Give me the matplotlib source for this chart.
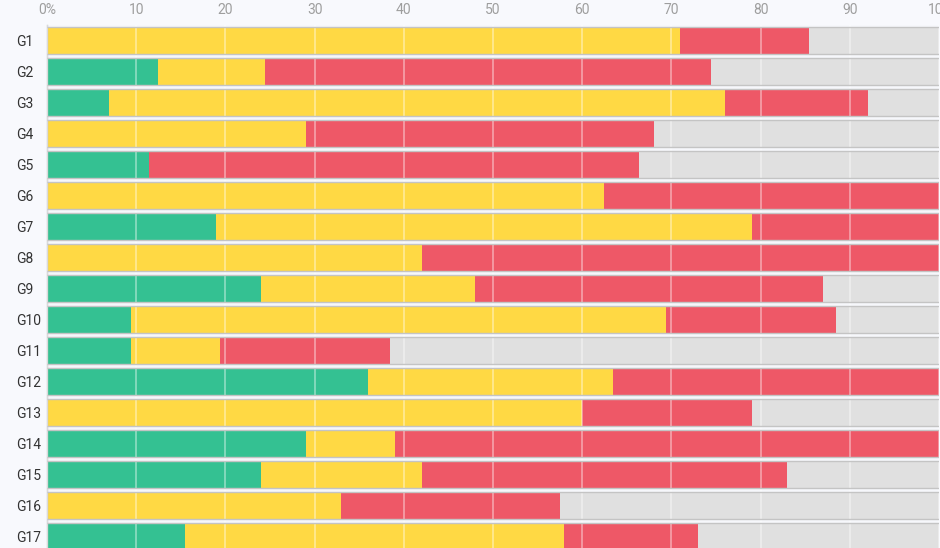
import numpy as np
import matplotlib.pyplot as plt

plt.rcParams['font.family'] = ['Roboto', 'DejaVu Sans']

# ----------------------------
# Data (percent of each group)
# ----------------------------
groups = ["G1", "G2", "G3", "G4", "G5", "G6", "G7", "G8", "G9",
          "G10", "G11", "G12", "G13", "G14", "G15", "G16", "G17"]
green = [0, 12.4, 7, 0, 11.4, 0, 19, 0, 24, 9.4, 9.4, 36, 0, 29, 24, 0, 15.5]
yellow = [71, 12, 69, 29, 0, 62.4, 60, 42, 24, 60, 10, 27.5, 60, 10, 18, 33, 42.5]
red = [14.4, 50, 16, 39, 55, 37.6, 21, 58, 39, 19, 19, 36.5, 19, 61, 41, 24.5, 15]
gray = [14.6, 25.6, 8, 32, 33.6, 0, 0, 0, 13, 11.6, 61.6, 0, 21, 0, 17, 42.5, 27]

xticks = [0, 10, 20, 30, 40, 50, 60, 70, 80, 90, 100]
xticklabels = ["0%", "10", "20", "30", "40", "50", "60", "70", "80", "90", "100"]

series = [green, yellow, red, gray]
colors = ["#34c192", "#ffd944", "#ee5867", "#e0e0e0"]

# ----------------------------
# Figure
# ----------------------------
W, H = 940, 548
fig = plt.figure(figsize=(W / 100, H / 100), dpi=100)
fig.patch.set_facecolor("#f8f9fd")

top_px, bot_px = 25, 552
ax = fig.add_axes([47 / W, (H - bot_px) / H, 892 / W, (bot_px - top_px) / H])
ax.set_facecolor("#f6f7fb")

y = np.arange(len(groups))
bar_h = 0.84
left = np.zeros(len(groups))
for vals, c in zip(series, colors):
    ax.barh(y, vals, left=left, height=bar_h, color=c, edgecolor="none", zorder=2)
    left += np.array(vals)

# thin grey border above/below each bar
ax.hlines(y - bar_h / 2, 0, 100, color="#c4c4c4", lw=1, zorder=3)
ax.hlines(y + bar_h / 2, 0, 100, color="#c4c4c4", lw=1, zorder=3)

ax.set_xlim(0, 100)
ax.set_ylim(len(groups) - 0.5, -0.5)

ax.set_yticks(y)
ax.set_yticklabels(groups, fontsize=10, color="#333333", ha="left")
ax.xaxis.tick_top()
ax.set_xticks(xticks)
ax.set_xticklabels(xticklabels, fontsize=10, color="#9e9e9e")
ax.tick_params(axis="both", length=0, pad=6)
ax.tick_params(axis="y", pad=22.5)

ax.grid(axis="x", color="white", alpha=0.45, lw=1.2, zorder=4)
ax.set_axisbelow(False)

for s in ["top", "right", "bottom"]:
    ax.spines[s].set_visible(False)
ax.spines["left"].set_color("#c4c4c4")
ax.spines["left"].set_linewidth(1)

fig.savefig("out.png", dpi=100, facecolor=fig.get_facecolor())
